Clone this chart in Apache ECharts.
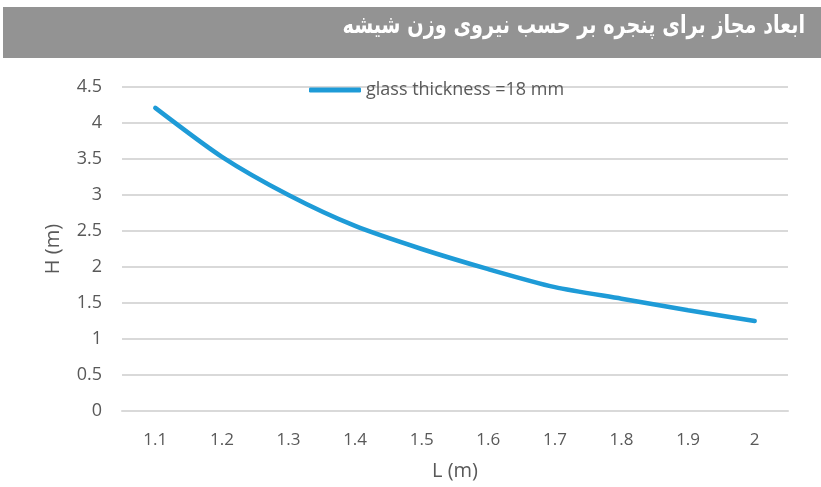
<!DOCTYPE html>
<html><head><meta charset="utf-8">
<script src="https://cdn.jsdelivr.net/npm/echarts@6/dist/echarts.min.js"></script>
<style>html,body{margin:0;padding:0;background:#fff}#c{width:821px;height:487px}</style>
</head><body><div id="c"></div>
<script>
const titleText = 'ابعاد مجاز برای پنجره بر حسب نیروی وزن شیشه';
const categories = ['1.1','1.2','1.3','1.4','1.5','1.6','1.7','1.8','1.9','2'];
const seriesName = 'glass thickness =18 mm';
const hValues = [4.21, 3.53, 3.0, 2.57, 2.25, 1.97, 1.72, 1.56, 1.40, 1.25];
const xName = 'L (m)';
const yName = 'H (m)';

const chart = echarts.init(document.getElementById('c'));
const font = '"Open Sans", Lato, sans-serif';
chart.setOption({
  animation: false,
  graphic: [
    {type:'rect', shape:{x:3, y:7, width:818, height:51}, style:{fill:'#939393'}, z:0},
    {type:'text', x:805, y:14, scaleX:0.77, style:{text:titleText, fill:'#fff', font:'bold 25px "DejaVu Sans", sans-serif', textAlign:'right', textVerticalAlign:'top'}, z:1}
  ],
  legend: {
    top: 76, left: 304,
    itemWidth: 52, itemHeight: 5, itemGap: 3,
    icon: 'roundRect',
    textStyle: {color:'#595959', fontSize:18, fontFamily: font},
    data: [seriesName]
  },
  grid: {left:122, right:33, top:87, bottom:76, outerBoundsMode:'none', containLabel:false},
  xAxis: {
    type:'category', data: categories, boundaryGap:true,
    name: xName, nameLocation:'middle', nameGap:50,
    nameTextStyle:{color:'#595959', fontSize:20, fontFamily: font},
    axisLine:{show:true, lineStyle:{color:'#d9d9d9', width:2}},
    axisTick:{show:false},
    axisLabel:{color:'#595959', fontSize:17, fontFamily: font, margin:21}
  },
  yAxis: {
    type:'value', min:0, max:4.5, interval:0.5,
    name: yName, nameLocation:'middle', nameGap:59,
    nameTextStyle:{color:'#595959', fontSize:20, fontFamily: font},
    axisLine:{show:false}, axisTick:{show:false},
    splitLine:{lineStyle:{color:'#d9d9d9', width:2}},
    axisLabel:{color:'#595959', fontSize:18, fontFamily: font, margin:20}
  },
  series: [{
    name: seriesName, type:'line', data: hValues,
    smooth: 0.25, symbol:'none',
    lineStyle:{color:'#1e9bd7', width:4.5, cap:'round'},
    itemStyle:{color:'#1e9bd7'}
  }]
});
</script></body></html>
